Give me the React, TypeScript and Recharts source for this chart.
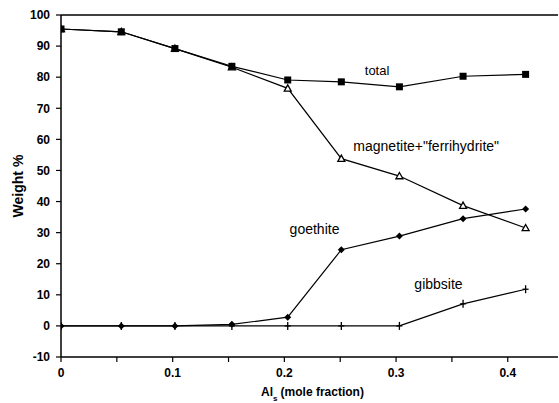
import React from "react";
import {
  LineChart, Line, XAxis, YAxis, ReferenceLine, ReferenceDot, Label,
} from "recharts";

// Al_s mole fraction of each sample
const alFraction = [0, 0.054, 0.102, 0.153, 0.203, 0.251, 0.303, 0.36, 0.416];
const totalValues = [95.5, 94.6, 89.2, 83.5, 79.1, 78.5, 76.9, 80.3, 80.9];
const magnetiteValues = [95.5, 94.6, 89.2, 83.2, 76.4, 53.8, 48.2, 38.7, 31.5];
const goethiteValues = [0, 0, 0, 0.5, 2.8, 24.5, 28.9, 34.5, 37.6];
const gibbsiteValues = [0, 0, 0, 0, 0, 0, 0, 7.1, 11.8];

const xTicks = [0, 0.05, 0.1, 0.15, 0.2, 0.25, 0.3, 0.35, 0.4];
const yTicks = [-10, 0, 10, 20, 30, 40, 50, 60, 70, 80, 90, 100];

const seriesLabels = [
  { text: "total", x: 0.283, y: 82.3, size: 13 },
  { text: "magnetite+\"ferrihydrite\"", x: 0.327, y: 58, size: 14 },
  { text: "goethite", x: 0.227, y: 31.3, size: 14 },
  { text: "gibbsite", x: 0.338, y: 13.5, size: 14 },
];

const data = alFraction.map((x, i) => ({
  x,
  total: totalValues[i],
  magnetite: magnetiteValues[i],
  goethite: goethiteValues[i],
  gibbsite: gibbsiteValues[i],
}));

const FONT = "'Liberation Sans', Arial, Helvetica, sans-serif";

const Square = (p: any) => (
  <rect key={p.index} x={p.cx - 3.5} y={p.cy - 3.5} width={7} height={7} fill="#000" />
);

const Triangle = (p: any) => (
  <polygon
    key={p.index}
    points={`${p.cx},${p.cy - 3.5} ${p.cx - 3.5},${p.cy + 2.7} ${p.cx + 3.5},${p.cy + 2.7}`}
    fill="#fff"
    stroke="#000"
    strokeWidth={1.3}
  />
);

const Diamond = (p: any) => (
  <polygon
    key={p.index}
    points={`${p.cx},${p.cy - 3.5} ${p.cx + 3.5},${p.cy} ${p.cx},${p.cy + 3.5} ${p.cx - 3.5},${p.cy}`}
    fill="#000"
  />
);

const Plus = (p: any) => (
  <g key={p.index}>
    <line x1={p.cx} y1={p.cy - 4} x2={p.cx} y2={p.cy + 4} stroke="#000" strokeWidth={1.3} />
    <line x1={p.cx - 3} y1={p.cy} x2={p.cx + 3} y2={p.cy} stroke="#000" strokeWidth={1.3} />
  </g>
);

const XTitle = (props: any) => {
  const vb = props.viewBox;
  const cx = vb.x + vb.width / 2 + 3;
  return (
    <text x={cx} y={vb.y + 39} textAnchor="middle" fontFamily={FONT} fontSize={12} fontWeight={600} fill="#000">
      <tspan>Al</tspan>
      <tspan fontSize={8} dy={5}>s</tspan>
      <tspan dy={-5} dx={3}>(mole fraction)</tspan>
    </text>
  );
};

const YTitle = (props: any) => {
  const vb = props.viewBox;
  const cy = vb.y + vb.height / 2;
  return (
    <text
      x={23}
      y={cy}
      transform={`rotate(-90, 23, ${cy})`}
      textAnchor="middle"
      fontFamily={FONT}
      fontSize={14}
      fontWeight={600}
      fill="#000"
    >
      Weight %
    </text>
  );
};

export default function App() {
  return (
    <div style={{ position: "absolute", left: 0, top: 0, background: "#fff" }}>
      <LineChart
        width={559}
        height={403}
        data={data}
        margin={{ top: 15, right: 1, left: 0, bottom: 0 }}
      >
        <XAxis
          dataKey="x"
          type="number"
          domain={[0, 0.445]}
          ticks={xTicks}
          allowDataOverflow
          height={46}
          tickSize={5}
          tickMargin={6}
          axisLine={{ stroke: "#000", strokeWidth: 1.5 }}
          tickLine={{ stroke: "#000", strokeWidth: 1.2 }}
          tick={{ fill: "#000", fontSize: 12, fontFamily: FONT, fontWeight: 600 }}
          tickFormatter={(v: number) => (Math.round(v * 100) % 10 === 0 ? String(Math.round(v * 10) / 10) : "")}
        >
          <Label content={XTitle} />
        </XAxis>
        <YAxis
          type="number"
          domain={[-10, 100]}
          ticks={yTicks}
          width={61}
          tickSize={5}
          tickMargin={6}
          axisLine={{ stroke: "#000", strokeWidth: 1.5 }}
          tickLine={{ stroke: "#000", strokeWidth: 1.2 }}
          tick={{ fill: "#000", fontSize: 12, fontFamily: FONT, fontWeight: 600 }}
        >
          <Label content={YTitle} />
        </YAxis>
        <ReferenceLine y={100} stroke="#000" strokeWidth={1.5} />
        <Line dataKey="gibbsite" stroke="#000" strokeWidth={1.2} dot={Plus} isAnimationActive={false} />
        <Line dataKey="goethite" stroke="#000" strokeWidth={1.2} dot={Diamond} isAnimationActive={false} />
        <Line dataKey="magnetite" stroke="#000" strokeWidth={1.2} dot={Triangle} isAnimationActive={false} />
        <Line dataKey="total" stroke="#000" strokeWidth={1.2} dot={Square} isAnimationActive={false} />
        {seriesLabels.map((l) => (
          <ReferenceDot
            key={l.text}
            x={l.x}
            y={l.y}
            r={0}
            fill="none"
            stroke="none"
            label={{
              value: l.text,
              position: "center",
              fill: "#000",
              fontSize: l.size,
              fontFamily: FONT,
            }}
          />
        ))}
      </LineChart>
    </div>
  );
}
